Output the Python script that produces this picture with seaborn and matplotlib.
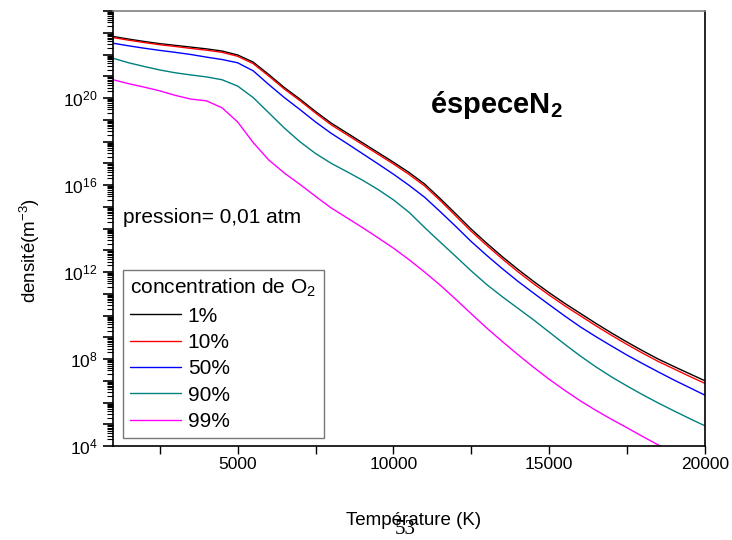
import numpy as np
import pandas as pd
import matplotlib
matplotlib.use("Agg")
import matplotlib.pyplot as plt
import matplotlib.ticker as mticker
import seaborn as sns

# ---- data (log10 of density in m^-3) ----
temperature = [1000, 1500, 2000, 2500, 3000, 3500, 4000, 4500, 5000, 5500,
               6000, 6500, 7000, 7500, 8000, 8500, 9000, 9500, 10000, 10500,
               11000, 11500, 12000, 12500, 13000, 13500, 14000, 14500, 15000, 15500,
               16000, 16500, 17000, 17500, 18000, 18500, 19000, 19500, 20000]
log_c1 = [22.83, 22.71, 22.60, 22.50, 22.42, 22.34, 22.26, 22.16, 21.98, 21.65,
          21.08, 20.48, 19.95, 19.38, 18.85, 18.40, 17.95, 17.50, 17.05, 16.58,
          16.05, 15.38, 14.68, 13.97, 13.32, 12.70, 12.12, 11.57, 11.05, 10.56,
          10.10, 9.64, 9.20, 8.78, 8.38, 8.00, 7.66, 7.33, 7.00]
log_c10 = [22.78, 22.66, 22.55, 22.45, 22.37, 22.28, 22.20, 22.10, 21.92, 21.58,
           21.01, 20.41, 19.88, 19.31, 18.77, 18.32, 17.87, 17.42, 16.97, 16.49,
           15.96, 15.29, 14.58, 13.87, 13.22, 12.60, 12.01, 11.46, 10.94, 10.45,
           9.99, 9.53, 9.09, 8.67, 8.27, 7.89, 7.55, 7.21, 6.88]
log_c50 = [22.52, 22.40, 22.29, 22.19, 22.10, 22.00, 21.88, 21.77, 21.62, 21.25,
           20.62, 20.02, 19.47, 18.90, 18.38, 17.92, 17.45, 16.98, 16.50, 15.99,
           15.44, 14.78, 14.10, 13.40, 12.76, 12.15, 11.57, 11.03, 10.50, 9.98,
           9.48, 9.03, 8.60, 8.18, 7.79, 7.41, 7.04, 6.69, 6.34]
log_c90 = [21.83, 21.62, 21.45, 21.29, 21.16, 21.06, 20.97, 20.84, 20.55, 20.02,
           19.32, 18.62, 17.99, 17.45, 17.00, 16.62, 16.23, 15.80, 15.32, 14.75,
           14.05, 13.38, 12.72, 12.05, 11.42, 10.86, 10.33, 9.80, 9.24, 8.68,
           8.14, 7.64, 7.18, 6.76, 6.36, 5.98, 5.62, 5.27, 4.93]
log_c99 = [20.84, 20.66, 20.50, 20.33, 20.12, 19.95, 19.87, 19.55, 18.90, 17.95,
           17.15, 16.55, 16.03, 15.48, 14.95, 14.50, 14.05, 13.58, 13.10, 12.57,
           12.00, 11.40, 10.75, 10.08, 9.42, 8.80, 8.20, 7.62, 7.07, 6.56,
           6.08, 5.64, 5.23, 4.84, 4.44, 4.05, 3.68, 3.32, 3.00]
series_labels = ["1%", "10%", "50%", "90%", "99%"]
series_colors = ["#000000", "#ff0000", "#0000ff", "#008080", "#ff00ff"]
x_ticks = [5000, 10000, 15000, 20000]
y_label_exponents = [4, 8, 12, 16, 20]

frames = []
for lab, vals in zip(series_labels, [log_c1, log_c10, log_c50, log_c90, log_c99]):
    frames.append(pd.DataFrame({"T": temperature,
                                "n": np.power(10.0, vals),
                                "conc": lab}))
df = pd.concat(frames, ignore_index=True)

sns.set_style("ticks")
plt.rcParams["font.family"] = ["Liberation Sans", "DejaVu Sans"]
plt.rcParams["mathtext.fontset"] = "custom"
plt.rcParams["mathtext.rm"] = "Liberation Sans"
plt.rcParams["mathtext.it"] = "Liberation Sans:italic"
plt.rcParams["mathtext.bf"] = "Liberation Sans:bold"
for key in ["text.color", "axes.labelcolor", "xtick.color", "ytick.color"]:
    plt.rcParams[key] = "black"

fig = plt.figure(figsize=(7.32, 5.40), dpi=100)
ax = fig.add_axes([0.1544, 0.174, 0.8086, 0.8056])

sns.lineplot(data=df, x="T", y="n", hue="conc", palette=series_colors,
             hue_order=series_labels, linewidth=1.0, ax=ax, legend=True)

ax.set_yscale("log")
ax.set_xlim(1000, 20000)
ax.set_ylim(1e4, 1e24)

# x ticks
ax.xaxis.set_major_locator(mticker.FixedLocator(x_ticks))
ax.xaxis.set_minor_locator(mticker.MultipleLocator(2500))
ax.tick_params(axis="x", which="both", direction="out", length=6, width=1,
               labelsize=12.5, colors="black", pad=2)

# y ticks: major every decade, labels every 4 decades
ax.yaxis.set_major_locator(mticker.LogLocator(base=10, numticks=30))
ax.yaxis.set_minor_locator(mticker.LogLocator(base=10, subs=np.arange(2, 10), numticks=30))

def yfmt(v, pos):
    e = int(round(np.log10(v)))
    if e in y_label_exponents:
        return r"$\mathregular{10^{%d}}$" % e
    return ""

ax.yaxis.set_major_formatter(mticker.FuncFormatter(yfmt))
ax.yaxis.set_minor_formatter(mticker.NullFormatter())
ax.tick_params(axis="y", which="major", direction="out", length=7, width=1.2,
               labelsize=12.5, pad=4, colors="black")
ax.tick_params(axis="y", which="minor", direction="out", length=4, width=0.8,
               colors="black")

for side in ["left", "bottom", "right"]:
    ax.spines[side].set_color("black")
    ax.spines[side].set_linewidth(1.2)
ax.spines["top"].set_color("#808080")
ax.spines["top"].set_linewidth(1.2)

ax.set_xlabel("Température (K)", fontsize=13.5)
ax.xaxis.label.set_va("center")
ax.xaxis.set_label_coords(0.507, -0.172)
ax.set_ylabel(r"densité(m$^{-3}$)", fontsize=13.5)
ax.yaxis.label.set_va("center")
ax.yaxis.set_label_coords(-0.141, 0.45)

handles, labels = ax.get_legend_handles_labels()
leg = ax.legend(handles, labels, title=r"concentration de O$_2$",
                loc="lower left", bbox_to_anchor=(0.017, 0.018), borderaxespad=0,
                fontsize=15, title_fontsize=15, frameon=True, fancybox=False,
                handlelength=2.45, handletextpad=0.3, labelspacing=0.35,
                borderpad=0.35, alignment="left")
leg.get_frame().set_edgecolor("#555555")
leg.get_frame().set_linewidth(1.0)

ax.text(0.017, 0.525, "pression= 0,01 atm", transform=ax.transAxes,
        fontsize=15, va="center", ha="left")
ax.text(0.535, 0.784, r"éspece$\mathbf{N_2}$", transform=ax.transAxes,
        fontsize=21, fontweight="bold", va="center", ha="left")

fig.text(0.553, 0.002, "53", family=["Liberation Serif", "DejaVu Serif"],
         fontsize=15, ha="center", va="bottom")

fig.savefig("out.png", dpi=100)
